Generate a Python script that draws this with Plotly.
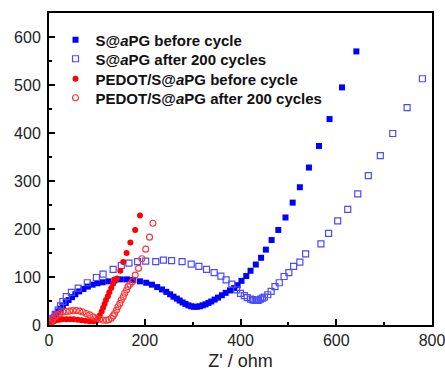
import plotly.graph_objects as go

# S@aPG before cycle (filled blue squares)
s_before_x = [2, 5, 8, 11, 15, 19, 24, 29, 35, 41, 48, 55, 63, 72, 81, 91, 101, 112, 124, 137, 150, 163,
              176, 190, 203, 215, 226, 236, 245, 253, 260, 267, 273, 279, 285, 291, 297, 303, 309, 315,
              321, 327, 333, 339, 346, 353, 361, 369, 378, 387, 394, 402, 412, 421, 432, 443, 453, 465,
              479, 494, 509, 524, 543, 564, 586, 612, 642]
s_before_y = [2, 7, 12, 17, 22, 28, 34, 40, 46, 52, 58, 64, 70, 75, 80, 84, 87, 89, 91, 93, 95, 95,
              94, 91, 88, 84, 79, 74, 69, 64, 59, 55, 51, 47, 44, 41, 39, 38, 38, 39,
              41, 43, 46, 49, 53, 57, 62, 67, 72, 77, 83, 92, 102, 113, 126, 140, 157, 177,
              198, 224, 255, 287, 328, 373, 429, 495, 570]

# S@aPG after 200 cycles (open blue squares)
s_after_x = [3, 8, 13, 19, 24, 29, 36, 47, 61, 80, 99, 113, 134, 151, 167, 185, 202, 223, 239, 256,
             278, 297, 313, 329, 345, 359, 370, 382, 392, 400, 408, 414, 421, 425, 428, 432, 435, 438,
             442, 446, 450, 457, 464, 472, 481, 491, 501, 511, 524, 536, 568, 584, 603, 624, 645, 667,
             692, 718, 748, 780]
s_after_y = [4, 14, 22, 31, 40, 49, 59, 68, 77, 88, 99, 106, 116, 124, 129, 132, 133, 132, 135, 134,
             132, 127, 122, 116, 109, 102, 94, 85, 73, 66, 61, 57, 54, 53, 52, 51, 51, 52,
             54, 56, 58, 63, 70, 80, 88, 101, 109, 122, 131, 148, 169, 191, 217, 241, 273, 311,
             353, 399, 453, 513]

# PEDOT/S@aPG before cycle (filled red circles)
p_before_x = [1, 3, 6, 10, 15, 21, 28, 36, 44, 52, 60, 68, 76, 84, 92, 98, 102, 106, 110, 113, 116,
              119, 123, 126, 130, 134, 137, 142, 149, 155, 162, 170, 180, 190]
p_before_y = [1, 4, 6, 8, 10, 11, 12, 12, 12, 12, 11, 10, 9, 8, 8, 9, 13, 20, 28, 36, 44,
              52, 60, 68, 77, 86, 95, 97, 113, 131, 150, 172, 198, 228]

# PEDOT/S@aPG after 200 cycles (open red circles)
p_after_x = [2, 5, 8, 12, 17, 22, 29, 36, 43, 50, 57, 64, 71, 78, 85, 92, 99, 106, 113, 120, 125,
             130, 134, 137, 141, 144, 148, 151, 155, 158, 162, 165, 169, 174, 180, 187, 194, 202, 210, 217]
p_after_y = [3, 7, 12, 17, 21, 24, 27, 28, 29, 30, 30, 29, 27, 24, 21, 17, 14, 12, 10, 10, 11,
             14, 19, 24, 31, 38, 45, 52, 59, 66, 73, 80, 85, 90, 104, 118, 138, 158, 183, 212]

x_ticks = [0, 200, 400, 600, 800]
y_ticks = [0, 100, 200, 300, 400, 500, 600]

FONT = "Arial, Liberation Sans, sans-serif"

fig = go.Figure()
fig.add_trace(go.Scatter(x=s_before_x, y=s_before_y, mode="markers", name="S@<i>a</i>PG before cycle",
                         legend="legend", showlegend=True,
                         marker=dict(symbol="square", size=6, color="#0000ff", line=dict(width=0))))
fig.add_trace(go.Scatter(x=s_after_x, y=s_after_y, mode="markers", name="S@<i>a</i>PG after 200 cycles",
                         legend="legend2", showlegend=True,
                         marker=dict(symbol="square-open", size=6, color="#4a4aff", line=dict(width=1.2))))
fig.add_trace(go.Scatter(x=p_before_x, y=p_before_y, mode="markers", name="PEDOT/S@<i>a</i>PG before cycle",
                         legend="legend3", showlegend=True,
                         marker=dict(symbol="circle", size=6, color="#ff0000", line=dict(width=0))))
fig.add_trace(go.Scatter(x=p_after_x, y=p_after_y, mode="markers", name="PEDOT/S@<i>a</i>PG after 200 cycles",
                         legend="legend4", showlegend=True,
                         marker=dict(symbol="circle-open", size=6, color="#ff3030", line=dict(width=1.1))))

axis_common = dict(showline=True, linecolor="black", linewidth=2, mirror=True, showgrid=False,
                   zeroline=False, ticks="inside", tickcolor="black", tickwidth=2, ticklen=6,
                   automargin=False, ticklabeloverflow="allow",
                   tickfont=dict(family=FONT, size=16, color="#222"))
fig.update_xaxes(range=[0, 800], tickvals=x_ticks,
                 minor=dict(dtick=100, ticks="inside", ticklen=3, tickwidth=2, tickcolor="black"),
                 title=dict(text="Z' / ohm", font=dict(family=FONT, size=18, color="#222"),
                            standoff=21),
                 **axis_common)
fig.update_yaxes(range=[0, 650], tickvals=y_ticks, ticklabelstandoff=3,
                 minor=dict(dtick=50, ticks="inside", ticklen=3, tickwidth=2, tickcolor="black"),
                 **axis_common)

legend_style = dict(x=0.017, xanchor="left", yanchor="middle", bgcolor="rgba(0,0,0,0)",
                    font=dict(family=FONT, size=15, color="#111", weight="bold"),
                    itemsizing="trace")
fig.update_layout(width=445, height=371, margin=dict(l=49, r=13, t=13, b=46),
                  paper_bgcolor="white", plot_bgcolor="white", showlegend=True,
                  legend=dict(y=0.9135, **legend_style),
                  legend2=dict(y=0.8526, **legend_style),
                  legend3=dict(y=0.7885, **legend_style),
                  legend4=dict(y=0.7276, **legend_style),
                  font=dict(family=FONT))

fig.write_html("out.html", config={"displayModeBar": False},
               post_script="document.body.style.margin='0';")
